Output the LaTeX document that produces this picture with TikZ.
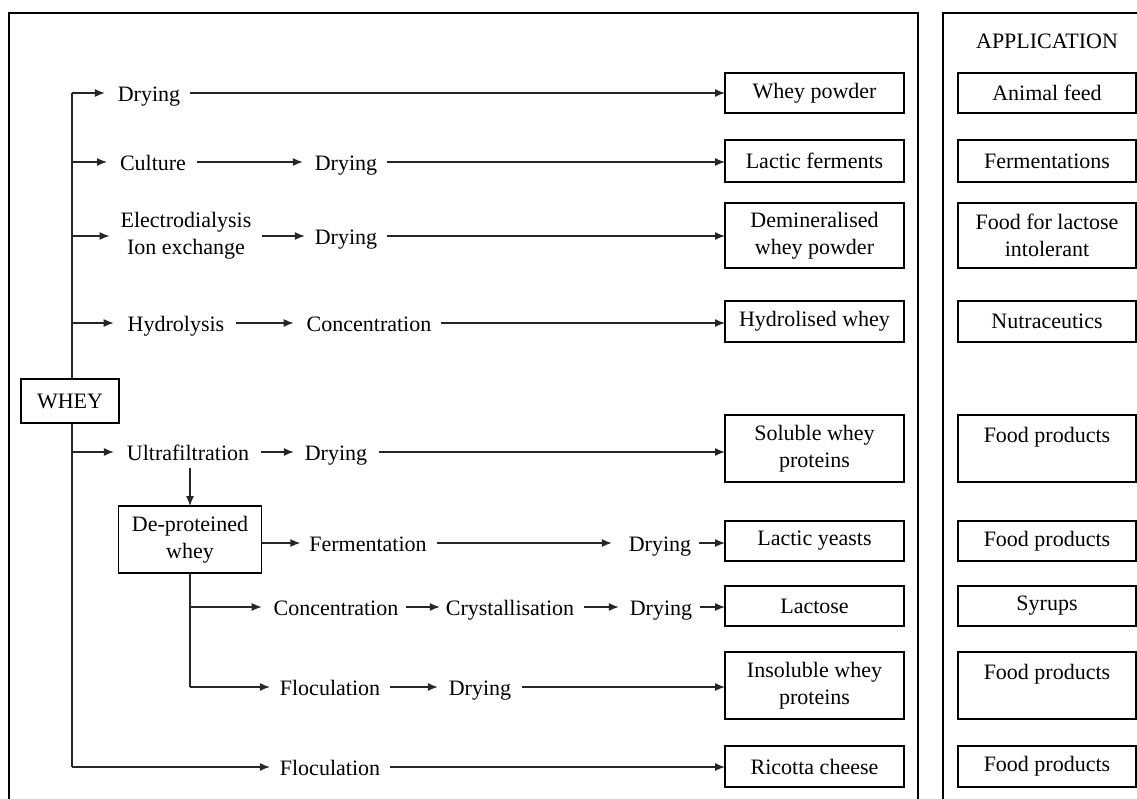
\documentclass[tikz,border=0pt]{standalone}
\usepackage{fontspec}
\setmainfont{Liberation Serif}
\usetikzlibrary{arrows.meta}
\newcommand{\myfs}{\fontsize{22}{27}\selectfont}
\begin{document}
\begin{tikzpicture}[x=1pt,y=-1pt,
  lbl/.style={inner sep=0pt, outer sep=0pt, text height=16pt, text depth=0pt, font=\myfs},
  lbltwo/.style={inner sep=0pt, outer sep=0pt, align=center, font=\myfs},
  box/.style={draw, line width=1.7pt, inner sep=0pt, outer sep=0pt, align=center, font=\myfs, minimum width=179pt},
  arr/.style={line width=1.3pt, draw=black!85, -{Latex[length=10pt,width=8pt]}},
  conn/.style={line width=1.3pt, draw=black!85},
  frame/.style={line width=2pt, line cap=rect}]
\useasboundingbox (0,0) rectangle (1137,798);

% frames
\draw[frame] (9,798) -- (9,13) -- (918,13) -- (918,798);
\draw[frame] (943,798) -- (943,13) -- (1137,13);
\node[lbl] (apphdr) at (1047,40) {APPLICATION};

% product boxes
\node[box, minimum height=40pt] (pb1) at (814.5,93) {Whey powder};
\node[box, minimum height=42pt] (pb2) at (814.5,161) {Lactic ferments};
\node[box, minimum height=65pt] (pb3) at (814.5,235.5) {Demineralised\\whey powder};
\node[box, minimum height=41pt] (pb4) at (814.5,321.5) {Hydrolised whey};
\node[box, minimum height=67pt] (pb5) at (814.5,448.5) {Soluble whey\\proteins};
\node[box, minimum height=40pt] (pb6) at (814.5,541) {Lactic yeasts};
\node[box, minimum height=40pt] (pb7) at (814.5,606) {Lactose};
\node[box, minimum height=67pt] (pb8) at (814.5,685.5) {Insoluble whey\\proteins};
\node[box, minimum height=41pt] (pb9) at (814.5,766.5) {Ricotta cheese};

% application boxes
\node[box, minimum width=178pt, minimum height=40pt] (ab1) at (1047,93) {Animal feed};
\node[box, minimum width=178pt, minimum height=42pt] (ab2) at (1047,161) {Fermentations};
\node[box, minimum width=178pt, minimum height=65pt] (ab3) at (1047,235.5) {Food for lactose\\intolerant};
\node[box, minimum width=178pt, minimum height=41pt] (ab4) at (1047,321.5) {Nutraceutics};
\node[box, minimum width=178pt, minimum height=67pt] (ab5) at (1047,448.5) {Food products\\~};
\node[box, minimum width=178pt, minimum height=40pt] (ab6) at (1047,541) {Food products};
\node[box, minimum width=178pt, minimum height=40pt] (ab7) at (1047,606) {Syrups};
\node[box, minimum width=178pt, minimum height=67pt] (ab8) at (1047,685.5) {Food products\\~};
\node[box, minimum width=178pt, minimum height=41pt] (ab9) at (1047,766.5) {Food products};

% trunk
\coordinate (t1) at (72,93);
\coordinate (t2) at (72,162);
\coordinate (t3) at (72,236);
\coordinate (t4) at (72,323);
\coordinate (t5) at (72,452);
\coordinate (t9) at (72,767);
\draw[conn] (t1) -- (t9);
\node[box, minimum width=98pt, minimum height=44pt, fill=white] (whey) at (70,401) {WHEY};

% row 1
\node[lbl] (dry1) at (149,93) {Drying};
\draw[arr, shorten >=13pt] (t1) -- (dry1.west);
\draw[arr, shorten <=10pt] (dry1.east) -- (dry1.east -| pb1.west);

% row 2
\node[lbl] (cult) at (153,162) {Culture};
\node[lbl] (dry2) at (346,162) {Drying};
\draw[arr, shorten >=13pt] (t2) -- (cult.west);
\draw[arr, shorten <=11pt, shorten >=12pt] (cult.east) -- (dry2.west);
\draw[arr, shorten <=10pt] (dry2.east) -- (dry2.east -| pb2.west);

% row 3
\node[lbltwo] (ed) at (186,236) {Electrodialysis\\Ion exchange};
\node[lbl] (dry3) at (346,236) {Drying};
\draw[arr, shorten >=11pt] (t3) -- (t3 -| ed.west);
\draw[arr, shorten <=11pt, shorten >=10pt] (ed.east |- dry3) -- (dry3.west);
\draw[arr, shorten <=10pt] (dry3.east) -- (dry3.east -| pb3.west);

% row 4
\node[lbl] (hyd) at (176,323) {Hydrolysis};
\node[lbl] (conc1) at (369,323) {Concentration};
\draw[arr, shorten >=14pt] (t4) -- (hyd.west);
\draw[arr, shorten <=12pt, shorten >=13pt] (hyd.east) -- (conc1.west);
\draw[arr, shorten <=10pt] (conc1.east) -- (conc1.east -| pb4.west);

% row 5
\node[lbl] (uf) at (188,452) {Ultrafiltration};
\node[lbl] (dry5) at (336,452) {Drying};
\draw[arr, shorten >=13pt] (t5) -- (uf.west);
\draw[arr, shorten <=12pt, shorten >=11pt] (uf.east) -- (dry5.west);
\draw[arr, shorten <=12pt] (dry5.east) -- (dry5.east -| pb5.west);

% de-proteined whey
\node[box, minimum width=143pt, minimum height=67pt] (dpw) at (190,539.5) {De-proteined\\whey};
\draw[arr, shorten <=8pt] (dpw.north |- uf.south) -- (dpw.north);

% row 6
\node[lbl] (ferm) at (368,543) {Fermentation};
\node[lbl] (dry6) at (660,543) {Drying};
\draw[arr, shorten >=9pt] (dpw.east |- ferm) -- (ferm.west);
\draw[arr, shorten <=10pt, shorten >=17pt] (ferm.east) -- (dry6.west);
\draw[arr, shorten <=8pt] (dry6.east) -- (dry6.east -| pb6.west);

% branches below de-proteined whey
\coordinate (b1) at (190,607);
\coordinate (b2) at (190,687);
\draw[conn] (dpw.south) -- (b2);

% row 7
\node[lbl] (conc2) at (336,607) {Concentration};
\node[lbl] (cryst) at (510,607) {Crystallisation};
\node[lbl] (dry7) at (661,607) {Drying};
\draw[arr, shorten >=12pt] (b1) -- (conc2.west);
\draw[arr, shorten <=8pt, shorten >=6pt] (conc2.east) -- (cryst.west);
\draw[arr, shorten <=10pt, shorten >=11pt] (cryst.east) -- (dry7.west);
\draw[arr, shorten <=8pt] (dry7.east) -- (dry7.east -| pb7.west);

% row 8
\node[lbl] (floc1) at (330,687) {Floculation};
\node[lbl] (dry8) at (480,687) {Drying};
\draw[arr, shorten >=10pt] (b2) -- (floc1.west);
\draw[arr, shorten <=10pt, shorten >=11pt] (floc1.east) -- (dry8.west);
\draw[arr, shorten <=11pt] (dry8.east) -- (dry8.east -| pb8.west);

% row 9
\node[lbl] (floc2) at (330,767) {Floculation};
\draw[arr, shorten >=10pt] (t9) -- (floc2.west);
\draw[arr, shorten <=10pt] (floc2.east) -- (floc2.east -| pb9.west);
\end{tikzpicture}
\end{document}
